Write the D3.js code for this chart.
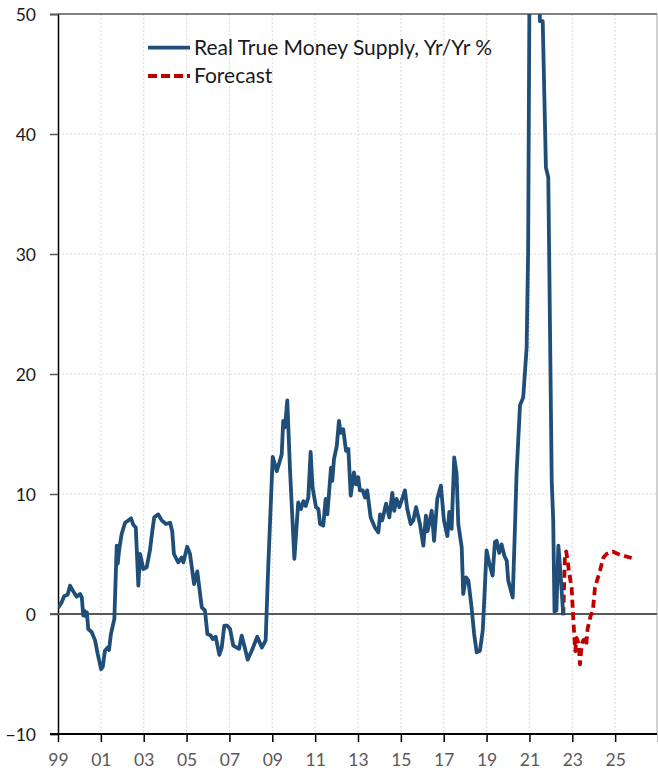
<!DOCTYPE html>
<html><head><meta charset="utf-8">
<script src="https://cdn.jsdelivr.net/npm/d3@7"></script>
<style>
html,body{margin:0;padding:0;background:#fff;}
svg{display:block;font-family:Lato,"Open Sans",sans-serif;}
</style></head>
<body>
<svg id="chart" width="658" height="774"></svg>
<script>
// ---- data (decimal year, yr/yr %) ----
const histYear = [1999.0,1999.17,1999.29,1999.45,1999.56,1999.71,1999.87,2000.03,2000.11,2000.18,2000.23,2000.31,2000.35,2000.41,2000.57,2000.73,2000.85,2001.01,2001.09,2001.19,2001.32,2001.38,2001.47,2001.63,2001.74,2001.79,2001.85,2001.97,2002.13,2002.28,2002.41,2002.51,2002.63,2002.75,2002.83,2002.98,2003.14,2003.29,2003.40,2003.49,2003.68,2003.84,2004.04,2004.23,2004.33,2004.41,2004.61,2004.77,2004.85,2005.03,2005.16,2005.35,2005.50,2005.71,2005.86,2005.97,2006.13,2006.22,2006.36,2006.53,2006.64,2006.76,2006.90,2007.03,2007.18,2007.34,2007.45,2007.57,2007.73,2007.85,2008.04,2008.30,2008.51,2008.69,2008.81,2009.02,2009.21,2009.44,2009.51,2009.59,2009.70,2009.83,2010.03,2010.21,2010.34,2010.45,2010.56,2010.68,2010.79,2010.88,2011.04,2011.15,2011.23,2011.38,2011.49,2011.57,2011.74,2011.80,2011.88,2012.01,2012.11,2012.19,2012.31,2012.44,2012.55,2012.66,2012.81,2012.91,2013.01,2013.09,2013.22,2013.33,2013.43,2013.53,2013.59,2013.79,2013.95,2014.03,2014.13,2014.31,2014.46,2014.60,2014.69,2014.80,2014.93,2015.08,2015.19,2015.30,2015.46,2015.58,2015.71,2015.89,2016.05,2016.17,2016.25,2016.44,2016.55,2016.70,2016.87,2017.01,2017.17,2017.26,2017.37,2017.49,2017.60,2017.68,2017.84,2017.91,2018.04,2018.15,2018.30,2018.42,2018.54,2018.69,2018.82,2018.89,2019.00,2019.12,2019.28,2019.39,2019.47,2019.59,2019.70,2019.83,2019.94,2020.01,2020.22,2020.33,2020.40,2020.56,2020.71,2020.87,2020.94,2021.03,2021.21,2021.41,2021.49,2021.62,2021.77,2021.88,2022.04,2022.11,2022.17,2022.26,2022.35,2022.43,2022.58];
const histValue = [0.5,0.97,1.5,1.6,2.36,1.9,1.44,1.67,1.38,-0.14,0.28,-0.2,0.14,-1.25,-1.5,-2.2,-3.3,-4.6,-4.4,-3.06,-2.8,-3.0,-1.67,-0.4,5.7,4.2,5.3,6.67,7.6,7.8,7.97,7.44,7.2,2.36,5.0,3.75,3.9,5.3,6.9,8.05,8.3,7.8,7.5,7.6,6.9,5.0,4.3,4.7,4.3,5.6,5.0,2.5,3.55,0.55,0.28,-1.67,-1.8,-2.1,-1.9,-3.4,-2.8,-0.97,-0.97,-1.25,-2.64,-2.8,-2.9,-1.8,-2.9,-3.8,-3.06,-1.9,-2.8,-2.2,3.9,13.1,11.9,13.3,16.1,15.55,17.8,11.9,4.6,9.3,8.75,9.4,9.0,9.7,13.5,10.55,8.9,8.75,7.5,7.36,9.6,8.3,12.2,11.1,12.9,14.0,16.1,15.1,15.4,13.6,13.75,9.86,11.8,10.8,11.4,10.3,10.3,9.7,10.3,8.9,8.05,7.2,6.8,8.3,7.8,9.2,8.05,10.1,8.6,9.6,8.9,9.7,10.3,8.75,7.5,7.8,8.9,7.5,5.7,8.2,6.9,8.6,6.1,9.6,10.7,7.8,6.5,8.5,7.1,13.05,11.7,7.5,5.55,1.67,3.05,2.8,0.55,-1.67,-3.2,-3.06,-1.4,1.1,5.3,4.3,3.2,6.0,6.1,5.1,5.8,4.86,4.44,2.8,1.38,7.5,11.7,17.4,18.05,22.2,30.3,62,66,55,49.4,49.4,37.2,36.4,11.1,7.8,0.2,0.3,5.7,3.9,-0.1];
const fcYear = [2022.58,2022.66,2022.72,2022.85,2022.97,2023.05,2023.10,2023.14,2023.20,2023.25,2023.31,2023.36,2023.44,2023.51,2023.59,2023.65,2023.72,2023.85,2023.96,2024.06,2024.29,2024.45,2024.60,2024.88,2025.22,2025.77];
const fcValue = [-0.1,5.0,5.2,3.5,2.2,-0.56,-1.95,-3.1,-2.0,-2.2,-2.8,-4.2,-2.5,-2.2,-2.1,-2.6,-1.2,-0.2,0.3,2.2,3.6,4.7,5.0,5.2,4.94,4.67];
const xTickYears = [1999,2001,2003,2005,2007,2009,2011,2013,2015,2017,2019,2021,2023,2025,2027];
const xTickLabels = ["99","01","03","05","07","09","11","13","15","17","19","21","23","25",""];
const yTicks = [-10,0,10,20,30,40,50];
const seriesNames = ["Real True Money Supply, Yr/Yr %","Forecast"];

// ---- layout ----
const L = 58, R = 657, T = 14, B = 734;
const svg = d3.select("#chart");
const x = d3.scaleLinear().domain([1999, 2027]).range([L, 658]);
const y = d3.scaleLinear().domain([-10, 50]).range([B, T]);

svg.append("defs").append("clipPath").attr("id","plotclip")
  .append("rect").attr("x",L).attr("y",T).attr("width",R-L).attr("height",B-T);

// gridlines
const grid = svg.append("g");
grid.selectAll("line.vg").data(xTickYears.slice(1, -1)).join("line")
  .attr("x1", d => x(d)).attr("x2", d => x(d)).attr("y1", T).attr("y2", B)
  .attr("stroke", "#d9d9d9").attr("stroke-width", 1).attr("stroke-dasharray", "2,2");
grid.selectAll("line.hg").data([10,20,30,40]).join("line")
  .attr("x1", L).attr("x2", R).attr("y1", d => y(d)).attr("y2", d => y(d))
  .attr("stroke", "#d9d9d9").attr("stroke-width", 1).attr("stroke-dasharray", "2,2");

// right border
svg.append("line").attr("x1",R).attr("x2",R).attr("y1",T).attr("y2",B)
  .attr("stroke","#a6a6a6").attr("stroke-width",1);

// y axis
const yAxis = d3.axisLeft(y).tickValues(yTicks).tickSize(8).tickFormat(d3.format("d"));
const gy = svg.append("g").attr("transform", `translate(${L},0)`).call(yAxis);
gy.select(".domain").attr("stroke","#000").attr("stroke-width",1.5);
gy.selectAll(".tick line").attr("stroke","#595959").attr("stroke-width",1.5);
gy.selectAll(".tick text").attr("x",-22).attr("dy","0.36em")
  .attr("font-size","17.5px").attr("fill","#1a1a1a").attr("font-family","Lato");

// top line (50) and zero line
svg.append("line").attr("x1",L).attr("x2",R).attr("y1",y(50)).attr("y2",y(50))
  .attr("stroke","#595959").attr("stroke-width",1.5);
svg.append("line").attr("x1",L-8).attr("x2",R).attr("y1",y(0)).attr("y2",y(0))
  .attr("stroke","#595959").attr("stroke-width",2);

// x axis
const xAxis = d3.axisBottom(x).tickValues(xTickYears).tickSize(8)
  .tickFormat((d,i) => xTickLabels[i]);
const gx = svg.append("g").attr("transform", `translate(0,${B})`).call(xAxis);
gx.select(".domain").remove();
gx.append("line").attr("x1",L-8).attr("x2",R).attr("y1",0).attr("y2",0)
  .attr("stroke","#000").attr("stroke-width",2);
gx.selectAll(".tick line").attr("stroke","#000").attr("stroke-width",1.5);
gx.selectAll(".tick text").attr("y",20).attr("dy","0.71em")
  .attr("font-size","17.5px").attr("fill","#595959").attr("font-family","Lato");

// series
const line = d3.line().x(d => x(d[0])).y(d => y(d[1]));
const plot = svg.append("g").attr("clip-path","url(#plotclip)");
plot.append("path").datum(fcYear.map((t,i)=>[t,fcValue[i]]))
  .attr("d", line).attr("fill","none").attr("stroke","#c00000")
  .attr("stroke-width",3.8).attr("stroke-dasharray","8,4.5").attr("stroke-linejoin","round");
plot.append("path").datum(histYear.map((t,i)=>[t,histValue[i]]))
  .attr("d", line).attr("fill","none").attr("stroke","#1f4e79")
  .attr("stroke-width",3.8).attr("stroke-linejoin","round");

// legend
const lg = svg.append("g");
const legendItems = [
  {name: seriesNames[0], color:"#1f4e79", dash:null, y:47.7},
  {name: seriesNames[1], color:"#c00000", dash:"9,4", y:76}
];
legendItems.forEach(it => {
  lg.append("line").attr("x1",148).attr("x2",190).attr("y1",it.y).attr("y2",it.y)
    .attr("stroke",it.color).attr("stroke-width",3.8).attr("stroke-dasharray",it.dash);
  lg.append("text").attr("x",194).attr("y",it.y+7).text(it.name)
    .attr("font-size","21px").attr("fill","#1a1a1a").attr("font-family","Lato");
});
</script>
</body></html>
